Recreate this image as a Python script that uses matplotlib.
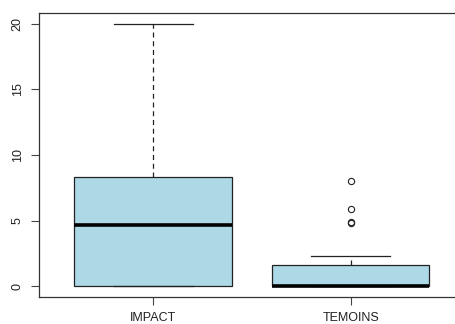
import matplotlib
matplotlib.use("Agg")
import matplotlib.pyplot as plt

plt.rcParams['font.family'] = ['Liberation Sans', 'DejaVu Sans']

groups = ["IMPACT", "TEMOINS"]
lower_whisker = [0.0, 0.0]
q1 = [0.0, 0.0]
median = [4.65, 0.0]
q3 = [8.3, 1.63]
upper_whisker = [20.0, 2.35]
outliers = [[], [8.0, 5.9, 4.85, 4.9]]
y_ticks = [0, 5, 10, 15, 20]

stats = []
for i, name in enumerate(groups):
    stats.append(dict(label=name, whislo=lower_whisker[i], q1=q1[i], med=median[i],
                      q3=q3[i], whishi=upper_whisker[i], fliers=outliers[i]))

W, H = 456, 324
fig = plt.figure(figsize=(W / 100, H / 100), dpi=100)
ax = fig.add_axes([39 / W, 27 / H, (465 - 39) / W, (297 - 13) / H])

ax.bxp(stats, positions=[1, 2], widths=0.8, patch_artist=True,
       boxprops=dict(facecolor="#ADD8E6", edgecolor="#222222", linewidth=0.9),
       medianprops=dict(color="black", linewidth=2.6, solid_capstyle="butt"),
       whiskerprops=dict(color="#222222", linewidth=0.9, linestyle=(0, (4, 3))),
       capprops=dict(color="#222222", linewidth=0.9),
       capwidths=0.4,
       flierprops=dict(marker="o", markerfacecolor="none", markeredgecolor="#222222",
                       markersize=4.5, markeredgewidth=0.8))

ax.set_xlim(0.42, 2.58)
ax.set_ylim(-0.8, 20.8)
ax.set_yticks(y_ticks)
ax.set_yticklabels([str(v) for v in y_ticks], rotation=90, va="center")
ax.set_xticks([1, 2])
ax.set_xticklabels(groups)
ax.tick_params(axis="both", length=6, width=0.8, color="#444444", labelsize=9,
               labelcolor="#222222", pad=5)
for s in ax.spines.values():
    s.set_color("#333333")
    s.set_linewidth(0.9)

fig.savefig("out.png", dpi=100)
